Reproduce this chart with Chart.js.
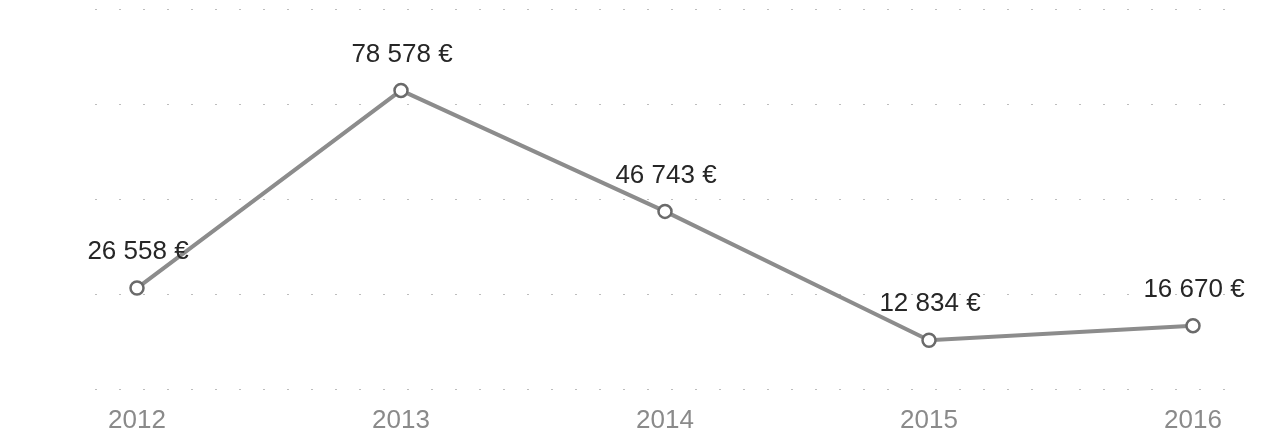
<!DOCTYPE html>
<html>
<head>
<meta charset="utf-8">
<script src="https://cdn.jsdelivr.net/npm/chart.js@4"></script>
<style>
  html, body { margin: 0; padding: 0; background: #fff; }
  #wrap { width: 1271px; height: 438px; }
</style>
</head>
<body>
<div id="wrap"><canvas id="chart"></canvas></div>
<script>
const years = ['2012', '2013', '2014', '2015', '2016'];
const amounts = [26558, 78578, 46743, 12834, 16670];
const gridValues = [0, 25000, 50000, 75000, 100000];

function euro(v) {
    return String(v).replace(/\B(?=(\d{3})+(?!\d))/g, ' ') + ' €';
}

// faint dotted horizontal lines, a bit wider than the plot area
const dottedGrid = {
    id: 'dottedGrid',
    beforeDatasetsDraw(chart) {
        const ctx = chart.ctx;
        const y = chart.scales.y;
        ctx.save();
        ctx.strokeStyle = '#bdbdbd';
        ctx.lineWidth = 1;
        ctx.setLineDash([2, 22]);
        gridValues.forEach(v => {
            const py = Math.round(y.getPixelForValue(v)) + 0.5;
            ctx.beginPath();
            ctx.moveTo(95, py);
            ctx.lineTo(1245, py);
            ctx.stroke();
        });
        ctx.restore();
    }
};

// value labels above each point
const valueLabels = {
    id: 'valueLabels',
    afterDatasetsDraw(chart) {
        const ctx = chart.ctx;
        const meta = chart.getDatasetMeta(0);
        ctx.save();
        ctx.font = '26px "Liberation Sans", Arial, sans-serif';
        ctx.fillStyle = '#262626';
        ctx.textAlign = 'center';
        ctx.textBaseline = 'middle';
        meta.data.forEach((pt, i) => {
            ctx.fillText(euro(amounts[i]), pt.x + 1, pt.y - 36);
        });
        ctx.restore();
    }
};

const ctx = document.getElementById('chart').getContext('2d');
new Chart(ctx, {
    type: 'line',
    data: {
        labels: years,
        datasets: [{
            data: amounts,
            borderColor: '#8c8c8c',
            borderWidth: 4,
            pointRadius: 6.5,
            pointBorderWidth: 2.5,
            pointBorderColor: '#6a6a6a',
            pointBackgroundColor: '#ffffff',
            tension: 0,
            fill: false
        }]
    },
    options: {
        responsive: true,
        maintainAspectRatio: false,
        animation: false,
        layout: {
            padding: { left: 137, right: 78, top: 8, bottom: 5 }
        },
        plugins: {
            legend: { display: false },
            tooltip: { enabled: false }
        },
        scales: {
            x: {
                offset: false,
                grid: { display: false, drawTicks: false },
                border: { display: false },
                afterFit(scale) { scale.height = 44; },
                ticks: {
                    padding: 16,
                    color: '#8a8a8a',
                    font: { family: '"Liberation Sans", Arial, sans-serif', size: 26 },
                    maxRotation: 0
                }
            },
            y: {
                min: 0,
                max: 100000,
                grid: { display: false, drawTicks: false },
                border: { display: false },
                ticks: { display: false }
            }
        }
    },
    plugins: [dottedGrid, valueLabels]
});
</script>
</body>
</html>
